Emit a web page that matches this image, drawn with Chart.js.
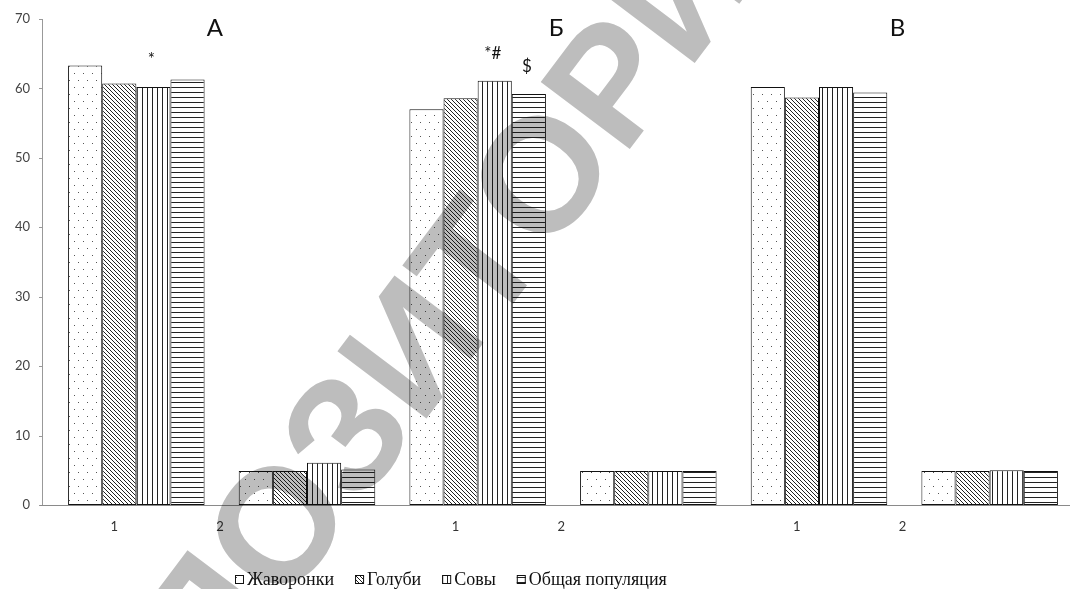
<!DOCTYPE html>
<html>
<head>
<meta charset="utf-8">
<script src="https://cdn.jsdelivr.net/npm/chart.js@4.4.0/dist/chart.umd.min.js"></script>
<style>
  html, body { margin: 0; padding: 0; background: #fff; overflow: hidden; }
  #wrap { width: 1090px; height: 589px; }
</style>
</head>
<body>
<div id="wrap"><canvas id="c" width="1090" height="589"></canvas></div>
<script>
// Categories: two groups (1, 2) inside each of the three panels А, Б, В
const categories = ['А-1', 'А-2', 'Б-1', 'Б-2', 'В-1', 'В-2'];
const panelTitles = ['А', 'Б', 'В'];
const groupTickLabels = ['1', '2'];
const seriesNames = ['Жаворонки', 'Голуби', 'Совы', 'Общая популяция'];

// Values per category
const larks      = [63.3, 4.9, 57.0, 4.9, 60.2, 4.9];
const pigeons    = [60.7, 4.9, 58.6, 4.9, 58.7, 4.9];
const owls       = [60.2, 6.1, 61.1, 4.9, 60.2, 5.0];
const population = [61.3, 5.1, 59.2, 4.9, 59.4, 4.9];

const yMin = 0, yMax = 70, yStep = 10;

// Significance marks above bars
const marks = [
  { series: 2, category: 0, text: '*' },
  { series: 2, category: 2, text: '*#' },
  { series: 3, category: 2, text: '$' }
];

const WATERMARK = 'РЕПОЗИТОРИЙ';

// ---- hatch patterns ----
function makePattern(kind) {
  const t = document.createElement('canvas');
  const g = t.getContext('2d');
  if (kind === 'dots') {
    t.width = 9; t.height = 14;
    g.fillStyle = '#fff'; g.fillRect(0, 0, 9, 14);
    g.fillStyle = '#555';
    g.fillRect(2, 3, 1, 1);
    g.fillRect(6, 10, 1, 1);
  } else if (kind === 'diag') {
    t.width = 4; t.height = 4;
    g.fillStyle = '#fff'; g.fillRect(0, 0, 4, 4);
    g.fillStyle = '#222';
    for (let i = 0; i < 4; i++) g.fillRect(i, i, 1, 1);
  } else if (kind === 'vert') {
    t.width = 5; t.height = 5;
    g.fillStyle = '#fff'; g.fillRect(0, 0, 5, 5);
    g.fillStyle = '#222'; g.fillRect(2, 0, 1, 5);
  } else {
    t.width = 5; t.height = 5;
    g.fillStyle = '#fff'; g.fillRect(0, 0, 5, 5);
    g.fillStyle = '#222'; g.fillRect(0, 2, 5, 1);
  }
  return g.createPattern(t, 'repeat');
}
const fills = [makePattern('dots'), makePattern('diag'), makePattern('vert'), makePattern('horiz')];
const seriesData = [larks, pigeons, owls, population];

const datasets = seriesData.map((d, i) => ({
  label: seriesNames[i],
  data: d,
  backgroundColor: fills[i],
  borderColor: '#111',
  borderWidth: 1,
  borderSkipped: false,
  barPercentage: 1.0,
  categoryPercentage: 0.8
}));

// ---- extra drawing: axis lines, labels, titles, legend, watermark ----
const decor = {
  id: 'decor',
  afterDatasetsDraw(chart) {
    const ctx = chart.ctx;
    const x = chart.scales.x, y = chart.scales.y;
    const area = chart.chartArea;
    const catW = (x.getPixelForValue(1) - x.getPixelForValue(0));
    const axisX = area.left - 9;

    ctx.save();
    // vertical value axis with outward ticks
    ctx.strokeStyle = '#999';
    ctx.lineWidth = 1;
    ctx.beginPath();
    ctx.moveTo(axisX + 0.5, y.getPixelForValue(yMax));
    ctx.lineTo(axisX + 0.5, y.getPixelForValue(yMin));
    for (let v = yMin; v <= yMax; v += yStep) {
      const py = Math.round(y.getPixelForValue(v)) + 0.5;
      ctx.moveTo(axisX - 3, py);
      ctx.lineTo(axisX + 1, py);
    }
    ctx.stroke();
    // baseline
    ctx.strokeStyle = '#8a8a8a';
    ctx.beginPath();
    const by = Math.round(y.getPixelForValue(0)) + 0.5;
    ctx.moveTo(axisX - 2, by);
    ctx.lineTo(chart.width, by);
    ctx.stroke();

    // group labels 1 / 2 under each panel
    ctx.fillStyle = '#333';
    ctx.font = '13px Lato';
    ctx.textAlign = 'center';
    ctx.textBaseline = 'middle';
    const labelShift = [-0.13, -0.51];
    categories.forEach((c, i) => {
      const k = i % 2;
      ctx.fillText(groupTickLabels[k], x.getPixelForValue(i) + labelShift[k] * catW, 527);
    });

    // panel titles
    ctx.fillStyle = '#111';
    ctx.font = '24px Lato';
    panelTitles.forEach((t, p) => {
      ctx.fillText(t, x.getPixelForValue(p * 2) + 0.46 * catW, 28);
    });

    // significance marks
    ctx.font = '17px Lato';
    ctx.textBaseline = 'alphabetic';
    marks.forEach(m => {
      const bar = chart.getDatasetMeta(m.series).data[m.category];
      ctx.fillText(m.text, bar.x - 2, bar.y - 22);
    });

    // legend
    ctx.font = '18px "Liberation Serif"';
    ctx.textAlign = 'left';
    let lx = 235;
    const ly = 585;
    seriesNames.forEach((name, i) => {
      ctx.fillStyle = fills[i];
      ctx.fillRect(lx, ly - 10, 9, 9);
      ctx.strokeStyle = '#111';
      ctx.strokeRect(lx + 0.5, ly - 9.5, 8, 8);
      ctx.fillStyle = '#111';
      ctx.fillText(name, lx + 12, ly);
      lx += 12 + ctx.measureText(name).width + 21;
    });
    ctx.restore();
  },
  afterDraw(chart) {
    const ctx = chart.ctx;
    ctx.save();
    ctx.globalCompositeOperation = 'multiply';
    ctx.fillStyle = '#bdbdbd';
    ctx.translate(420, 353);
    ctx.rotate(-53 * Math.PI / 180);
    ctx.font = 'bold 162px "Liberation Sans"';
    ctx.textAlign = 'center';
    ctx.textBaseline = 'middle';
    ctx.fillText(WATERMARK, 0, 0);
    ctx.restore();
  }
};

new Chart(document.getElementById('c'), {
  type: 'bar',
  data: { labels: categories, datasets },
  options: {
    responsive: false,
    animation: false,
    layout: { padding: { top: 19, right: 15, bottom: 84, left: 0 } },
    plugins: { legend: { display: false }, tooltip: { enabled: false } },
    scales: {
      x: { display: false },
      y: {
        min: yMin, max: yMax,
        ticks: { stepSize: yStep, padding: 21, color: '#444', font: { family: 'Lato', size: 13 } },
        grid: { display: false, drawTicks: false },
        border: { display: false },
        afterFit(scale) {
          scale.width = 51;
          scale.paddingTop = 0;
          scale.paddingBottom = 0;
        }
      }
    }
  },
  plugins: [decor]
});
</script>
</body>
</html>
